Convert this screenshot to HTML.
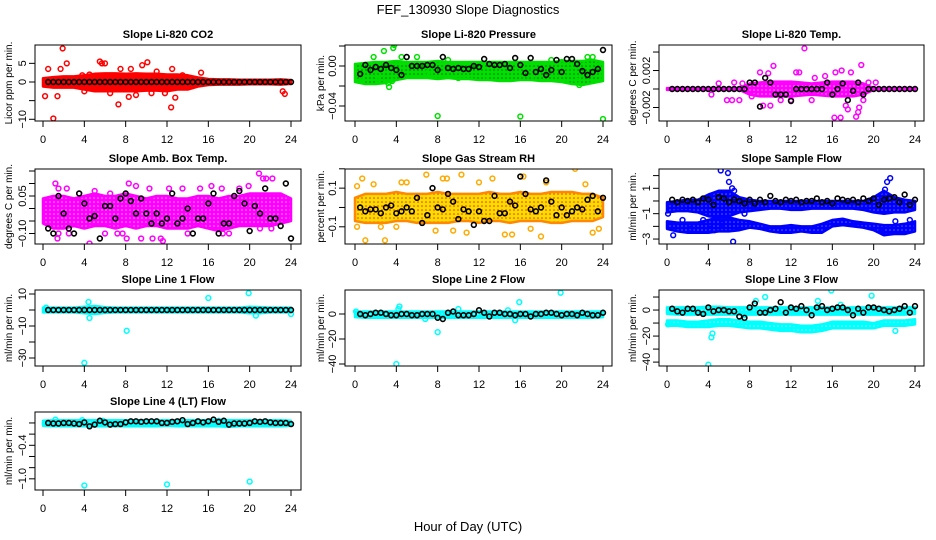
<!DOCTYPE html>
<html><head><meta charset="utf-8">
<style>
html,body{margin:0;padding:0;background:#fff;}
svg{display:block;font-family:"Liberation Sans",sans-serif;}
</style></head>
<body>
<svg id="chart" width="936" height="540" viewBox="0 0 936 540" xmlns="http://www.w3.org/2000/svg">
<text x="468" y="14" text-anchor="middle" font-size="13">FEF_130930  Slope Diagnostics</text>
<text x="468" y="531" text-anchor="middle" font-size="13">Hour of Day (UTC)</text>
</svg>
<script>
// ---------- data ----------
const bandHours = [0,1,2,3,4,5,6,7,8,9,10,11,12,13,14,15,16,17,18,19,20,21,22,23,24];
const blackHours = [0.5,1,1.5,2,2.5,3,3.5,4,4.5,5,5.5,6,6.5,7,7.5,8,8.5,9,9.5,10,10.5,11,11.5,12,12.5,13,13.5,14,14.5,15,15.5,16,16.5,17,17.5,18,18.5,19,19.5,20,20.5,21,21.5,22,22.5,23,23.5,24];

const co2Lo = [-1.2,-1.5,-1.5,-1.5,-2,-2.5,-2.5,-2.5,-2.5,-2.5,-2.3,-2.3,-2.5,-2,-2,-1.2,-0.8,-0.7,-0.7,-0.7,-0.6,-0.6,-0.6,-0.7,-0.5];
const co2Hi = [1,1.3,1.5,1.5,1.8,2.2,2.3,2.3,2.2,2.3,2.2,2.2,2,2,1.8,1.2,0.8,0.7,0.7,0.6,0.6,0.6,0.6,0.7,0.5];
const co2Pts = [[1.0,-9.8],[1.9,9],[0.2,-3.8],[0.5,3.5],[1.4,-3.8],[2.3,5],[1.7,3.5],[5.5,5.5],[5.7,5],[6,5],[7.3,-6],[9.6,4.5],[10.1,5.3],[12.4,-6.8],[12.5,3.5],[12.8,-4.2],[15.3,2.5],[23.2,-2.5],[23.4,-3.2],[4.5,2],[6.5,-3],[8.3,-4],[9,-3.5],[11,2.8],[3.8,1.8],[7.5,3.5],[8.5,3.5],[10.5,-3],[13.5,1.8],[4,-2.5],[11.8,-3]];
const co2Black = [0,0,0,0,0,0,0,0,0,0,0,0,0,0,0,0,0,0,0,0,0,0,0,0,0,0,0,0,0,0,0,0,0,0,0,0,0,0,0,0,0,0,0,0,0,0,0,0];

const presLo = [-0.016,-0.018,-0.018,-0.017,-0.014,-0.012,-0.012,-0.012,-0.013,-0.012,-0.013,-0.013,-0.014,-0.014,-0.015,-0.015,-0.014,-0.014,-0.015,-0.015,-0.016,-0.018,-0.019,-0.017,-0.015];
const presHi = [0.002,0.003,0.004,0.004,0.005,0.004,0.004,0.004,0.005,0.004,0.004,0.004,0.004,0.004,0.004,0.004,0.004,0.004,0.004,0.004,0.005,0.005,0.005,0.006,0.004];
const presPts = [[8,-0.05],[16,-0.0505],[24,-0.053],[3.2,-0.017],[3.3,-0.021],[3.6,-0.015],[3.7,0.018],[3.8,0.021],[2.8,0.015],[1.8,0.009],[4.5,0.009],[5,0.009],[6,0.009],[0.6,-0.014],[2.2,-0.014],[21.5,-0.015],[21.7,-0.019],[22.5,0.009],[23,0.009],[7,-0.007],[9,0.006],[10,-0.012],[13,-0.012],[15,-0.013],[17,-0.012],[19,0.006],[20,0.004]];
const presBlack = [-0.008,0.001,-0.004,-0.001,-0.003,0.001,-0.002,-0.004,-0.009,0.009,0,0,0,0.001,0.001,-0.004,0.009,-0.002,-0.003,-0.002,-0.003,-0.003,0,-0.001,0.007,0.002,0.001,0.001,0.002,-0.002,0.008,0.001,-0.007,0.008,-0.006,-0.003,-0.009,-0.004,0.006,-0.006,0.007,0.007,0.002,-0.005,-0.009,-0.006,-0.003,0.016];

const tempLo = [-0.0001,-0.0001,-0.0001,-0.0001,-0.0001,-0.0001,-0.0001,-0.0001,-0.0006,-0.0008,-0.0008,-0.0008,-0.0008,-0.0007,-0.0006,-0.0007,-0.0008,-0.0008,-0.0008,-0.0006,-0.0001,-0.0001,-0.0001,-0.0001,-0.0001];
const tempHi = [0.0001,0.0001,0.0001,0.0001,0.0001,0.0001,0.0001,0.0001,0.0006,0.0007,0.0008,0.0008,0.0008,0.0007,0.0006,0.0007,0.0008,0.0008,0.0008,0.0006,0.0001,0.0001,0.0001,0.0001,0.0001];
const tempPts = [[13.3,0.0044],[10.3,0.0025],[18.8,0.0026],[16.2,-0.0031],[16.8,-0.0031],[17.3,-0.0018],[17.5,-0.0022],[18.3,-0.003],[18.5,-0.0025],[18.6,-0.002],[9.3,-0.0018],[10,-0.0018],[4.3,-0.0006],[5.8,-0.0012],[6.3,-0.0012],[7,-0.0012],[8.2,-0.0008],[9,0.0018],[9.8,0.0017],[12.5,0.0018],[12.8,0.0018],[14.3,0.0012],[15.3,0.0014],[16.3,0.0018],[16.9,0.002],[17.8,0.0018],[19,-0.0012],[11,-0.0012],[14,-0.0012],[12,-0.0012],[5,0.0006],[6.5,0.0007],[7.3,0.0006],[20.2,0.0007],[19.5,0.0007]];
const tempBlack = [0,0,0,0,0,0,0,0,0,0,0,0,0,0,0,0.0007,0.0007,-0.0019,0.0012,0.0007,-0.0006,-0.0006,-0.0006,-0.0013,0,0,0,0,0,0,0.0007,-0.0006,0,0.0006,-0.0012,-0.0002,0.0007,-0.0006,0,0,0,0,0,0,0,0,0,0];

const ambLo = [-0.06,-0.08,-0.08,-0.07,-0.08,-0.07,-0.07,-0.08,-0.07,-0.08,-0.07,-0.07,-0.08,-0.08,-0.08,-0.07,-0.08,-0.09,-0.08,-0.07,-0.07,-0.07,-0.07,-0.06,-0.05];
const ambHi = [0.04,0.05,0.05,0.04,0.05,0.06,0.05,0.05,0.06,0.05,0.04,0.05,0.05,0.04,0.04,0.05,0.05,0.04,0.05,0.05,0.06,0.06,0.06,0.06,0.04];
const ambPts = [[1.2,0.1],[1.5,0.08],[2.3,0.08],[1.4,-0.12],[1.5,-0.1],[2.5,-0.1],[4.5,-0.14],[6,-0.1],[7.2,-0.1],[7.7,-0.1],[8.1,-0.12],[8.3,0.1],[9,0.09],[10.6,-0.12],[11.6,-0.13],[11.4,-0.12],[9.5,-0.12],[10.3,0.08],[12.2,0.08],[13.5,0.08],[15.2,0.08],[16.3,0.09],[17.3,0.08],[17.4,-0.1],[19,0.08],[19.9,0.09],[20.9,0.14],[21.3,0.12],[21.6,0.12],[22.2,0.12],[22.1,-0.08],[21,-0.08],[5,0.07],[3.5,0.06],[6.5,0.06],[14,-0.1],[18,-0.1]];
const ambBlack = [-0.08,-0.1,0.05,-0.02,-0.08,-0.1,0.06,0.02,-0.04,-0.03,-0.12,0.01,0.01,-0.04,0.04,0.06,0.03,-0.02,0.04,-0.02,-0.06,-0.02,-0.06,-0.04,0.06,-0.06,-0.04,0,-0.1,-0.04,-0.04,0.02,0.06,-0.1,-0.06,-0.06,0.05,0.07,0.02,-0.09,0.01,-0.02,0.08,-0.04,-0.04,-0.07,0.1,-0.12];

const rhLo = [-0.07,-0.08,-0.08,-0.08,-0.07,-0.07,-0.08,-0.08,-0.08,-0.08,-0.07,-0.07,-0.08,-0.07,-0.07,-0.08,-0.07,-0.07,-0.07,-0.08,-0.08,-0.07,-0.07,-0.07,-0.05];
const rhHi = [0.05,0.07,0.07,0.07,0.08,0.07,0.07,0.07,0.08,0.07,0.07,0.07,0.07,0.08,0.07,0.07,0.08,0.07,0.07,0.08,0.08,0.08,0.07,0.07,0.05];
const rhPts = [[0.2,0.11],[0.7,0.15],[1,-0.17],[1.8,0.12],[2.9,-0.17],[4,-0.1],[4.5,0.13],[5,0.13],[6.9,0.17],[8.5,0.15],[8.9,0.15],[10.3,0.17],[10.8,-0.13],[12,0.13],[13.3,0.15],[14.5,-0.14],[15.2,-0.14],[16.3,0.16],[17,-0.11],[18,-0.15],[18.5,0.13],[21.3,0.2],[22.3,0.12],[23,-0.13],[23.6,-0.11],[0.2,-0.1],[2.5,-0.1],[7.8,-0.12],[9.5,-0.12]];
const rhBlack = [0,-0.02,-0.01,-0.01,-0.03,0,0.01,-0.03,-0.02,0,-0.02,0.05,-0.08,-0.04,0.1,0,-0.01,0.07,0.03,-0.06,-0.01,-0.02,-0.09,-0.02,-0.07,-0.07,0.06,-0.03,-0.03,0.03,0.01,0.16,0.07,-0.01,-0.02,0,0.14,0.03,-0.04,0,-0.04,-0.02,0,-0.01,0.04,0.06,-0.02,0.05];

const flowLo = [-0.9,-0.8,-0.8,-0.9,-1.2,-1.3,-1.2,-0.9,-0.8,-0.7,-0.6,-0.6,-0.7,-0.7,-0.6,-0.6,-0.6,-0.6,-0.6,-0.7,-0.9,-1.0,-0.9,-0.9,-0.7];
const flowHi = [-0.1,0,0.1,0.1,0.5,0.8,0.8,0.3,0.1,0,0,0,0,0,0,0,0,0,0,0,0.3,0.8,0.3,0.1,0];
const flow2Lo = [-2.2,-2.4,-2.5,-2.5,-2.5,-2.4,-2.4,-2.3,-2.1,-2.2,-2.4,-2.5,-2.5,-2.4,-2.5,-2.5,-2.0,-1.9,-2.0,-2.1,-2.3,-2.7,-2.6,-2.6,-2.4];
const flow2Hi = [-1.6,-1.7,-1.7,-1.7,-1.5,-1.3,-1.3,-1.5,-1.6,-1.8,-2.0,-2.0,-1.9,-2.0,-2.0,-1.8,-1.5,-1.4,-1.6,-1.7,-1.8,-1.9,-1.9,-1.8,-1.6];
const flowPts = [[5.2,2.4],[5.9,2.2],[6,1.5],[6.3,1],[6.5,0.8],[6.4,-3.2],[0.6,-2.7],[0.1,-1],[1.5,-1.5],[2.3,-2.2],[3.5,-1.5],[4.1,-2.2],[4.6,-2.3],[5.3,-1.8],[7.2,-2],[7.5,-1],[21.3,1.5],[21.6,1.8],[21.1,0.9],[20.7,-2.4],[20.9,-2.5],[22.1,-1.6],[23.5,-1.5]];
const flowBlack = [0.1,-0.1,0.1,0,0.1,-0.1,0.2,0.1,-0.3,0.3,0.2,-0.1,0.1,0,-0.2,0.1,-0.2,0.1,-0.1,0.4,0,-0.1,0.1,0,0.1,-0.1,0,0,0.2,-0.1,0,-0.2,0.2,0.1,0,0.1,-0.1,0.2,0,0.2,-0.3,0.1,0.2,0.3,-0.1,0.5,-0.3,0.1];

const l1Lo = [-1.5,-1.5,-1.5,-1.5,-2,-2.5,-1.8,-1.5,-1.5,-1.5,-1.5,-1.5,-1.5,-1.5,-1.5,-1.5,-1.5,-1.5,-1.5,-1.5,-2,-2,-1.5,-1.5,-1.5];
const l1Hi = [1.5,1.5,1.5,1.5,2,2.5,1.8,1.5,1.5,1.5,1.5,1.5,1.5,1.5,1.5,1.5,1.5,1.5,1.5,1.5,2,1.8,1.5,1.5,1.5];
const l1Pts = [[4,-33],[8.1,-13],[16,7.5],[19.9,10.5],[4.4,5],[4.5,-5],[20.6,-3.5],[0.3,1.5],[24,-2.5]];
const l1Black = [0,0,0,0,0,0,0,0,0,0,0,0,0,0,0,0,0,0,0,0,0,0,0,0,0,0,0,0,0,0,0,0,0,0,0,0,0,0,0,0,0,0,0,0,0,0,0,0];

const l2Lo = [-2.5,-3,-3,-3,-3,-3,-3,-3,-3,-3,-3,-3,-3,-3,-3,-3,-3,-3,-3,-3,-3,-3,-3,-3,-2.5];
const l2Hi = [2,2,2,2,2,2,2,2,2,2,2,2,2,2,2,2,2,2,2,2,2,2,2,2,2];
const l2Pts = [[4,-40],[8,-14.5],[15.9,9.5],[19.9,17],[4.3,6],[4.2,4],[14.8,3],[15.5,-5],[6.8,-4],[0.1,2],[10,4]];
const l2Black = [0,-1,0,1,1,0,-1,-1,0,0,-1,-1,0,0,0,-3,-4,1,2,-1,-1,-1,0,3,1,-2,1,1,0,0,-1,0,0,-2,0,0,1,1,0,-1,0,0,-1,1,0,-1,-1,1];

const l3Lo = [-3,-3.5,-3.5,-3.5,-3.5,-3.5,-3.5,-3.5,-3.5,-3.5,-3.5,-3.5,-3.5,-3.5,-3.5,-3.5,-3.5,-3.5,-3.5,-3.5,-3.5,-3.5,-3.5,-3.5,-3];
const l3Hi = [2,2,2,2,2.5,2.5,2,2,2,2,2,2,2,2,2,2,2,2,2,2,2,2,2,2,2];
const l32Lo = [-12,-12,-13,-13,-13,-12,-12,-13,-14,-14,-15,-16,-16,-17,-17,-16,-14,-14,-14,-14,-14,-12,-12,-12,-11];
const l32Hi = [-8,-8,-9,-9,-8,-7,-7,-8,-9,-9,-10,-11,-11,-12,-12,-11,-9,-9,-9,-9,-10,-8,-8,-8,-7];
const l3Pts = [[4,-42],[4.4,-18],[4.3,-21],[8.6,7],[9.5,10],[15.9,15],[19.8,11],[22.1,-16],[14.6,7],[7.5,-4],[0.1,-11],[16.8,4]];
const l3Black = [1,-1,-2,1,1,-2,-3,2,-1,0,0,-1,-1,-5,-6,2,5,-2,-2,0,1,6,-2,2,1,3,0,-4,2,3,0,1,2,2,0,-4,1,-2,2,2,1,0,-1,0,1,3,-2,3];

const l4Lo = [-0.05,-0.06,-0.06,-0.06,-0.06,-0.06,-0.06,-0.06,-0.06,-0.06,-0.06,-0.06,-0.05,-0.06,-0.06,-0.06,-0.06,-0.06,-0.07,-0.06,-0.06,-0.06,-0.06,-0.06,-0.05];
const l4Hi = [0.04,0.05,0.05,0.05,0.05,0.05,0.05,0.05,0.05,0.05,0.05,0.05,0.05,0.05,0.05,0.05,0.05,0.06,0.05,0.05,0.05,0.05,0.05,0.05,0.04];
const l4Pts = [[4,-1.12],[12,-1.1],[20,-1.05],[1.2,0.06],[3.8,0.05],[5.8,0.04],[17,0.04]];
const l4Black = [0.0,-0.01,-0.01,0.0,0.0,-0.01,-0.02,0.01,-0.06,-0.03,0.04,0.01,-0.03,-0.02,-0.02,0.01,0.03,0.03,0.02,0.03,0.03,0.03,0.0,0.0,0.02,0.03,0.05,-0.02,0.0,0.03,0.01,0.03,0.06,0.02,0.04,-0.03,-0.01,-0.01,-0.01,0.0,0.03,0.02,0.03,0.01,0.0,0.0,0.0,-0.02];

const xTicks = [0,4,8,12,16,20,24];

// ---------- layout ----------
const COLS = [{l:35,r:301,x0:43,x1:291,yl:8},{l:345,r:612,x0:355,x1:603,yl:320},{l:659,r:924,x0:667,x1:915,yl:632}];
const ROWS = [{t:45,b:121},{t:169,b:244},{t:290,b:366},{t:412,b:490}];

const panels = [
 {key:'co2',c:0,r:0,title:'Slope Li-820 CO2',ylab:'Licor ppm per min.',col:'#ff0000',yr:[-10.46,9.92],yt:[-10,-5,0,5],yl:['\u221210','','0','5'],bands:[[co2Lo,co2Hi]],pts:co2Pts,blk:co2Black},
 {key:'pressure',c:1,r:0,title:'Slope Li-820 Pressure',ylab:'kPa per min.',col:'#00e000',yr:[-0.055,0.021],yt:[-0.04,-0.02,0,0.02],yl:['\u22120.04','','0.00',''],bands:[[presLo,presHi]],pts:presPts,blk:presBlack},
 {key:'temp',c:2,r:0,title:'Slope Li-820 Temp.',ylab:'degrees C per min.',col:'#ff00ff',yr:[-0.00346,0.00476],yt:[-0.002,0,0.002,0.004],yl:['\u22120.002','','0.002',''],bands:[[tempLo,tempHi]],pts:tempPts,blk:tempBlack},
 {key:'amb',c:0,r:1,title:'Slope Amb. Box Temp.',ylab:'degrees C per min.',col:'#ff00ff',yr:[-0.142,0.158],yt:[-0.1,-0.05,0,0.05,0.1,0.15],yl:['\u22120.10','','','0.05','',''],bands:[[ambLo,ambHi]],pts:ambPts,blk:ambBlack},
 {key:'rh',c:1,r:1,title:'Slope Gas Stream RH',ylab:'percent per min.',col:'#ff9900',pcol:'#ffaa00',yr:[-0.189,0.199],yt:[-0.1,0,0.1,0.2],yl:['\u22120.1','','0.1',''],bands:[[rhLo,rhHi]],pts:rhPts,blk:rhBlack},
 {key:'sampleflow',c:2,r:1,title:'Slope Sample Flow',ylab:'ml/min per min.',col:'#0000ff',yr:[-3.39,2.52],yt:[-3,-2,-1,0,1,2],yl:['\u22123','','\u22121','','1',''],bands:[[flowLo,flowHi],[flow2Lo,flow2Hi]],pts:flowPts,blk:flowBlack},
 {key:'line1',c:0,r:2,title:'Slope Line 1 Flow',ylab:'ml/min per min.',col:'#00ffff',yr:[-35,12.5],yt:[-30,-20,-10,0,10],yl:['\u221230','','\u221210','','10'],bands:[[l1Lo,l1Hi]],pts:l1Pts,blk:l1Black},
 {key:'line2',c:1,r:2,title:'Slope Line 2 Flow',ylab:'ml/min per min.',col:'#00ffff',yr:[-41.6,19.2],yt:[-40,-20,0],yl:['\u221240','\u221220','0'],bands:[[l2Lo,l2Hi]],pts:l2Pts,blk:l2Black},
 {key:'line3',c:2,r:2,title:'Slope Line 3 Flow',ylab:'ml/min per min.',col:'#00ffff',yr:[-43,15.4],yt:[-40,-30,-20,-10,0,10],yl:['\u221240','','\u221220','','0',''],bands:[[l3Lo,l3Hi],[l32Lo,l32Hi]],pts:l3Pts,blk:l3Black},
 {key:'line4',c:0,r:3,title:'Slope Line 4 (LT) Flow',ylab:'ml/min per min.',col:'#00ffff',yr:[-1.2,0.196],yt:[-1.0,-0.8,-0.6,-0.4,-0.2,0],yl:['\u22121.0','','','\u22120.4','',''],bands:[[l4Lo,l4Hi]],pts:l4Pts,blk:l4Black}
];

const NS='http://www.w3.org/2000/svg';
const svg=document.getElementById('chart');
function mk(tag,attrs,parent){const e=document.createElementNS(NS,tag);for(const k in attrs)e.setAttribute(k,attrs[k]);(parent||svg).appendChild(e);return e;}

// dot patterns for textured clouds
const defs=mk('defs',{});
[['pressure','#00e000','#006600'],['rh','#ffdd00','#ff2200'],['magenta','#ff00ff','#ffa0ff'],['blue','#0000ff','#6060ff'],['cyan','#00ffff','#a0ffff']].forEach(a=>{
  const pat=mk('pattern',{id:'dots-'+a[0],width:4,height:4,patternUnits:'userSpaceOnUse'},defs);
  mk('rect',{width:4,height:4,fill:a[1]},pat);
  mk('circle',{cx:2,cy:2,r:0.8,fill:a[2]},pat);
});
const patFor={pressure:'pressure',rh:'rh',amb:'magenta',temp:'magenta',sampleflow:'blue',line1:'cyan',line2:'cyan',line3:'cyan',line4:'cyan'};

panels.forEach(p=>{
  const C=COLS[p.c],R=ROWS[p.r];
  const xs=v=>C.x0+(v/24)*(C.x1-C.x0);
  const ys=v=>R.b-(v-p.yr[0])/(p.yr[1]-p.yr[0])*(R.b-R.t);
  const g=mk('g',{});
  
  
  const clipId='clip-'+p.key;
  const cp=mk('clipPath',{id:clipId},g);
  mk('rect',{x:C.l,y:R.t,width:C.r-C.l,height:R.b-R.t},cp);
  const plot=mk('g',{'clip-path':'url(#'+clipId+')'},g);
  p.bands.forEach((b,bi)=>{
    const lo=b[0],hi=b[1];
    let d='';
    bandHours.forEach((h,i)=>{d+=(i?'L':'M')+xs(h).toFixed(1)+','+ys(hi[i]).toFixed(1);});
    for(let i=bandHours.length-1;i>=0;i--){d+='L'+xs(bandHours[i]).toFixed(1)+','+ys(lo[i]).toFixed(1);}
    d+='Z';
    const band=mk('path',{d:d,fill:patFor[p.key]?'url(#dots-'+patFor[p.key]+')':p.col,stroke:p.key==='rh'?'#ff8800':p.col,'stroke-width':2.5,'stroke-linejoin':'round'},plot);
    
    
  });
  p.pts.forEach(pt=>{
    const c=mk('circle',{cx:xs(pt[0]),cy:ys(pt[1]),r:2.4,fill:'none',stroke:p.pcol||p.col,'stroke-width':1.5},plot);
    
    
  });
  p.blk.forEach((v,i)=>{
    const c=mk('circle',{cx:xs(blackHours[i]),cy:ys(v),r:2.4,fill:'none',stroke:'#000','stroke-width':1.6},plot);
    
    
  });
  const box=mk('rect',{x:C.l,y:R.t,width:C.r-C.l,height:R.b-R.t,fill:'none',stroke:'#000','stroke-width':1},g);
  
  
  xTicks.forEach(t=>{
    mk('line',{x1:xs(t),x2:xs(t),y1:R.b,y2:R.b+6,stroke:'#000'},g);
    const tl=mk('text',{x:xs(t),y:R.b+22,'text-anchor':'middle','font-size':11},g);
    tl.textContent=String(t);
    
    
  });
  p.yt.forEach((t,i)=>{
    const y=ys(t);
    mk('line',{x1:C.l-6,x2:C.l,y1:y,y2:y,stroke:'#000'},g);
    if(p.yl[i]){
      const tl=mk('text',{x:0,y:0,'text-anchor':'middle','font-size':11,transform:'translate('+(C.l-9)+','+y+') rotate(-90)'},g);
      tl.textContent=p.yl[i];
      
      
    }
  });
  const tt=mk('text',{x:(C.l+C.r)/2,y:R.t-7,'text-anchor':'middle','font-size':11,'font-weight':'bold'},g);
  tt.textContent=p.title;
  
  
  const yl=mk('text',{x:0,y:0,'text-anchor':'middle','font-size':10,transform:'translate('+(C.yl+4)+','+((R.t+R.b)/2)+') rotate(-90)'},g);
  yl.textContent=p.ylab;
  
  
});
</script>
</body></html>
